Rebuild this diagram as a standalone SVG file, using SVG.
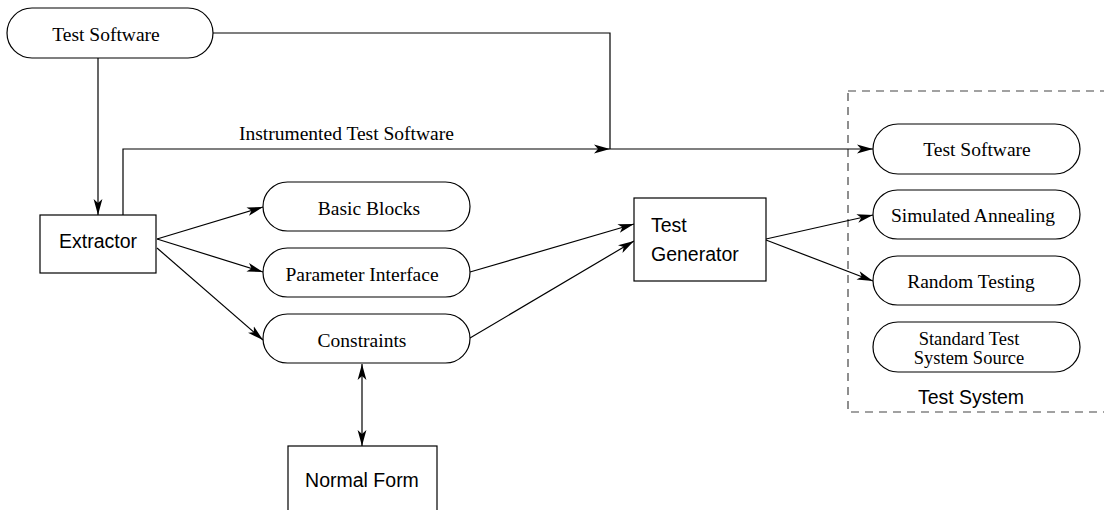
<svg xmlns="http://www.w3.org/2000/svg" width="1104" height="510" viewBox="0 0 1104 510">
<style>
.pill{fill:#fff;stroke:#000;stroke-width:1.2}
.box{fill:#fff;stroke:#000;stroke-width:1.2}
.serif{font-family:"Liberation Serif","Times New Roman",serif;font-size:19.5px;fill:#000}
.sans{font-family:"Liberation Sans",Arial,sans-serif;font-size:19.5px;fill:#000}
.c{text-anchor:middle}
.ln{fill:none;stroke:#000;stroke-width:1.2}
.dash{fill:none;stroke:#444;stroke-width:1.2;stroke-dasharray:8,6}
</style>
<defs>
<marker id="ah" markerUnits="userSpaceOnUse" markerWidth="18" markerHeight="10" refX="16" refY="5" orient="auto-start-reverse">
<path d="M0,0.6 L16,5 L0,9.4 L4,5 z" fill="#000"/>
</marker>
</defs>
<rect class="dash" x="848" y="91" width="300" height="321"/>
<text class="sans c" x="971" y="404">Test System</text>
<g id="connectors">
<path class="ln" d="M213,33 H610 V149"/>
<path class="ln" d="M98,58 V215" marker-end="url(#ah)"/>
<path class="ln" d="M123,215 V149 H610" marker-end="url(#ah)"/>
<path class="ln" d="M610,149 H873" marker-end="url(#ah)"/>
<path class="ln" d="M157,239 L263,207" marker-end="url(#ah)"/>
<path class="ln" d="M157,239 L263,272" marker-end="url(#ah)"/>
<path class="ln" d="M157,248 L263,340" marker-end="url(#ah)"/>
<path class="ln" d="M470,272 L634,224" marker-end="url(#ah)"/>
<path class="ln" d="M470,338 L634,241" marker-end="url(#ah)"/>
<path class="ln" d="M766,239 L873,215" marker-end="url(#ah)"/>
<path class="ln" d="M766,240 L873,281" marker-end="url(#ah)"/>
<path class="ln" d="M362,364 V446" marker-start="url(#ah)" marker-end="url(#ah)"/>
<text class="serif" x="239" y="140">Instrumented Test Software</text>
</g>
<g id="test-software-top">
<rect class="pill" x="7" y="8" width="206" height="50" rx="25"/>
<text class="serif c" x="106" y="41">Test Software</text>
</g>
<g id="extractor">
<rect class="box" x="40" y="215" width="116" height="58"/>
<text class="sans c" x="98" y="248">Extractor</text>
</g>
<g id="basic-blocks">
<rect class="pill" x="263" y="182" width="207" height="49" rx="24.5"/>
<text class="serif c" x="369" y="215">Basic Blocks</text>
</g>
<g id="parameter-interface">
<rect class="pill" x="263" y="248" width="207" height="49" rx="24.5"/>
<text class="serif c" x="362" y="281">Parameter Interface</text>
</g>
<g id="constraints">
<rect class="pill" x="263" y="314" width="207" height="49" rx="24.5"/>
<text class="serif c" x="362" y="347">Constraints</text>
</g>
<g id="normal-form">
<rect class="box" x="288" y="446" width="149" height="80"/>
<text class="sans c" x="362" y="487">Normal Form</text>
</g>
<g id="test-generator">
<rect class="box" x="634" y="198" width="132" height="83"/>
<text class="sans" x="651" y="232">Test</text>
<text class="sans" x="651" y="261">Generator</text>
</g>
<g id="test-software-right">
<rect class="pill" x="873" y="124" width="207" height="50" rx="25"/>
<text class="serif c" x="977" y="156">Test Software</text>
</g>
<g id="simulated-annealing">
<rect class="pill" x="873" y="190" width="207" height="49" rx="24.5"/>
<text class="serif c" x="973" y="222">Simulated Annealing</text>
</g>
<g id="random-testing">
<rect class="pill" x="873" y="256" width="207" height="49" rx="24.5"/>
<text class="serif c" x="971" y="288">Random Testing</text>
</g>
<g id="standard-test">
<rect class="pill" x="873" y="322" width="207" height="50" rx="25"/>
<text class="serif c" x="969" y="345" style="font-size:18.5px">Standard Test</text>
<text class="serif c" x="969" y="364" style="font-size:18.5px">System Source</text>
</g>
</svg>
